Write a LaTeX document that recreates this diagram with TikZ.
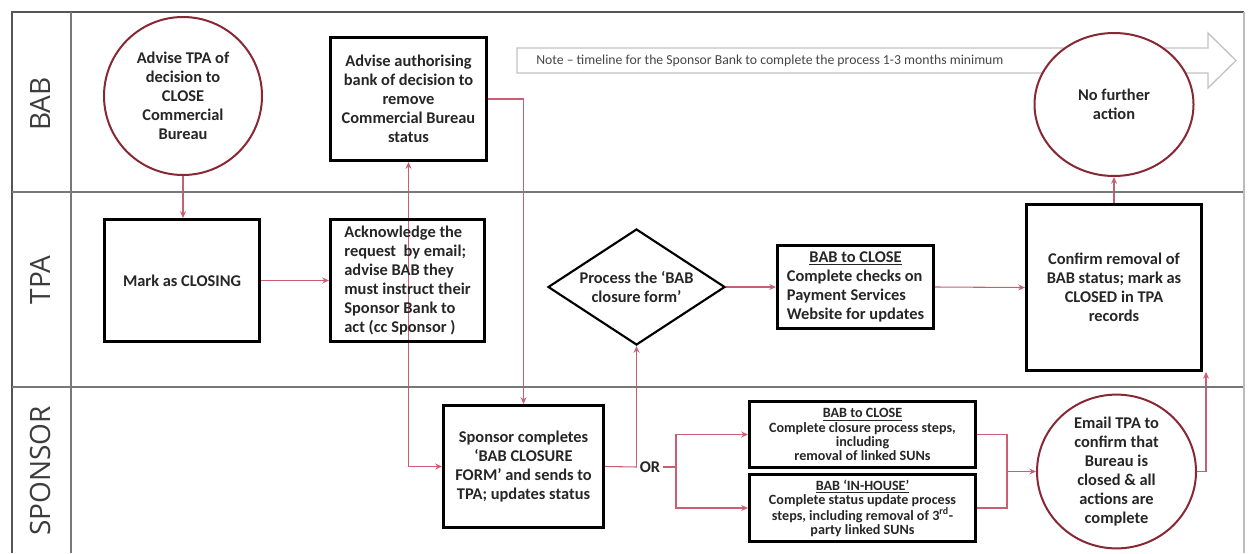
\documentclass[tikz,border=0pt]{standalone}
\usepackage{fontspec}
\setmainfont{Carlito}
\newfontfamily\lanefont{Open Sans}
\usetikzlibrary{shapes.geometric,arrows.meta,backgrounds}
\definecolor{conncol}{RGB}{200,95,115}
\definecolor{circcol}{RGB}{135,40,52}
\definecolor{txtcol}{RGB}{38,38,38}
\definecolor{framecol}{RGB}{85,85,85}
\definecolor{lanecol}{RGB}{120,120,120}
\definecolor{notecol}{RGB}{195,195,195}
\definecolor{notetxt}{RGB}{70,70,70}
\begin{document}
\begin{tikzpicture}[x=0.75pt,y=-0.75pt,
  txt/.style={text=txtcol, font=\bfseries\fontsize{12.3}{14.2}\selectfont},
  smalltxt/.style={text=txtcol, font=\bfseries\fontsize{10.6}{10.6}\selectfont},
  box/.style={draw=black, line width=2.4pt, rectangle, inner sep=0pt, align=center},
  rnd/.style={txt, draw=circcol, line width=1.5pt, ellipse, inner sep=0pt, align=center, fill=white},
  dia/.style={txt, draw=black, line width=1.6pt, diamond, aspect=1.5, inner sep=0pt, align=center},
  sz/.style 2 args={minimum width=#1*0.75pt, minimum height=#2*0.75pt},
  conn/.style={draw=conncol, line width=0.8pt},
  arr/.style={-{Stealth[length=5pt,width=4.5pt]}},
  lane/.style={text=txtcol!90, font=\lanefont\fontsize{21}{24}\selectfont, rotate=90}
]
\useasboundingbox (0,0) rectangle (1248,553);
% frame and lanes
\draw[framecol, line width=1.2pt] (1244,12) -- (12,12) -- (12,553);
\draw[lanecol, line width=1pt] (71,12) -- (71,553);
\draw[lanecol, line width=1pt] (12,192) -- (1244,192);
\draw[lanecol, line width=1pt] (12,387) -- (1244,387);
\draw[lanecol!50, line width=0.8pt] (1244,12) -- (1244,553);
\node[lane] (lbab) at (40,104) {BAB};
\node[lane] (ltpa) at (40,280) {TPA};
\node[lane] (lsp) at (40,471) {SPONSOR};
% note arrow
\draw[notecol, line width=1pt, fill=white] (517,48) -- (1208,48) -- (1208,33) -- (1236,60.5) -- (1208,88) -- (1208,73) -- (517,73) -- cycle;
\node[anchor=west, text=notetxt, font=\fontsize{10.3}{12}\selectfont, inner sep=0pt] (note) at (536,60.5)
  {Note – timeline for the Sponsor Bank to complete the process 1-3 months minimum};
% BAB lane
\node[rnd, sz={158}{158}] (circA) at (183,96) {Advise TPA of\\decision to\\CLOSE\\Commercial\\Bureau};
\node[box, txt, sz={156}{123}] (auth) at (408.5,99) {Advise authorising\\bank of decision to\\remove\\Commercial Bureau\\status};
\node[rnd, sz={159}{143}] (nfa) at (1114,104.5) {No further\\action};
% TPA lane
\node[box, txt, sz={155}{122}] (mark) at (182,280.5) {Mark as CLOSING};
\node[box, txt, sz={154}{122}, align=left] (ack) at (407.5,280.5) {Acknowledge the\\request~ by email;\\advise BAB they\\must instruct their\\Sponsor Bank to\\act (cc Sponsor )};
\node[dia, sz={177}{116}] (diam) at (636.5,287) {Process the ‘BAB\\closure form’};
\node[box, txt, sz={156}{83}] (chk) at (855.5,287)
  {\begin{tabular}{@{}l@{}}\multicolumn{1}{@{}c@{}}{\underline{BAB to CLOSE}}\\Complete checks on\\Payment Services\\Website for updates\end{tabular}};
\node[box, txt, sz={175}{166}] (conf) at (1114,287.5) {Confirm removal of\\BAB status; mark as\\CLOSED in TPA\\records};
% SPONSOR lane
\node[box, txt, sz={160}{122}] (spons) at (523.5,466.5) {Sponsor completes\\‘BAB CLOSURE\\FORM’ and sends to\\TPA; updates status};
\node[txt, inner sep=2pt] (or) at (650,467) {OR};
\node[box, smalltxt, sz={226}{66}] (cls) at (862.5,434.5) {\underline{BAB to CLOSE}\\Complete closure process steps,\\including\\removal of linked SUNs};
\node[box, smalltxt, sz={226}{67}] (inh) at (862.5,508) {\underline{BAB ‘IN-HOUSE’}\\Complete status update process\\steps, including removal of 3\textsuperscript{rd}-\\party linked SUNs};
\node[rnd, sz={159}{147}] (email) at (1116.5,471.5) {Email TPA to\\confirm that\\Bureau is\\closed \& all\\actions are\\complete};
% junctions
\coordinate (j1) at (diam.south |- spons.east);
\coordinate (j2) at (676,467);
\coordinate (j3) at (1007,471.5);
\coordinate (j4) at (1206,372);
% connectors
\begin{scope}[on background layer]
\draw[conn, arr] (circA.south) -- (circA.south |- mark.north);
\draw[conn, arr] (mark.east) -- (ack.west);
\draw[conn, {Stealth[length=5pt,width=4.5pt]}-{Stealth[length=5pt,width=4.5pt]}] (auth.south) |- (spons.west);
\draw[conn, arr] (auth.east) -| (spons.north);
\draw[conn] (spons.east) -- (or.west);
\draw[conn, arr] (j1) -- (diam.south);
\draw[conn] (or.east) -- (j2);
\draw[conn, arr] (j2) |- (cls.west);
\draw[conn, arr] (j2) |- (inh.west);
\draw[conn, arr] (diam.east) -- (chk.west);
\draw[conn, arr] (chk.east) -- (conf.west);
\draw[conn, arr] (conf.north) -- (nfa.south);
\draw[conn] (cls.east) -| (j3);
\draw[conn] (inh.east) -| (j3);
\draw[conn, arr] (j3) -- (email.west);
\draw[conn, arr] (email.east) -| (j4);
\end{scope}
\end{tikzpicture}
\end{document}
